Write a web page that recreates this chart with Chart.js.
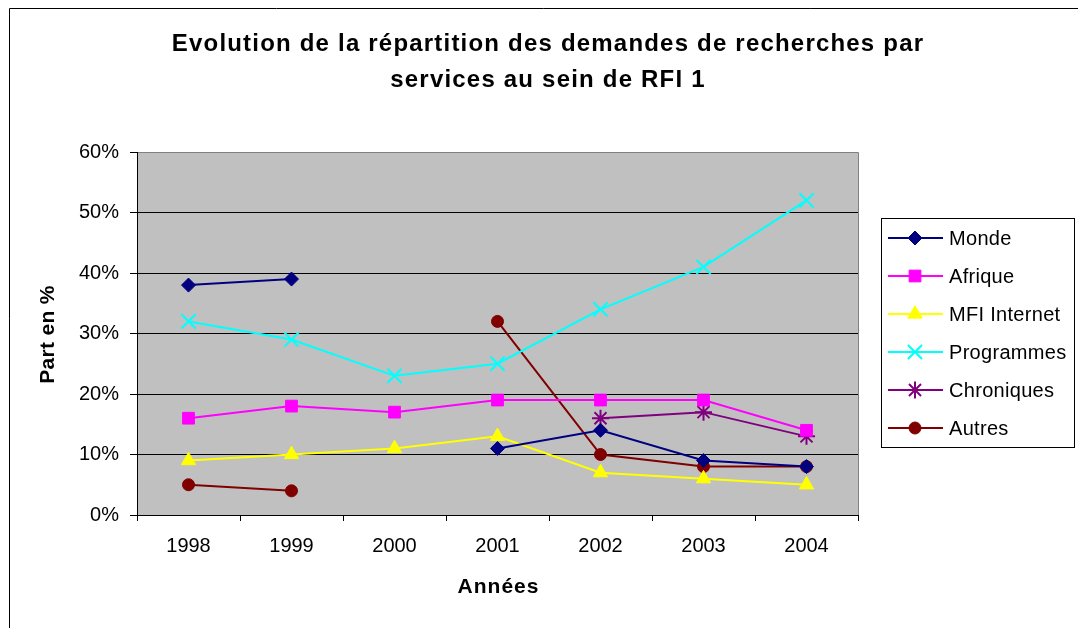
<!DOCTYPE html>
<html>
<head>
<meta charset="utf-8">
<script src="https://cdn.jsdelivr.net/npm/chart.js@4/dist/chart.umd.min.js"></script>
<style>
html,body{margin:0;padding:0;background:#fff;}
canvas{display:block;}
</style>
</head>
<body>
<canvas id="c" width="1078" height="628"></canvas>
<script>
const years = ['1998','1999','2000','2001','2002','2003','2004'];
const monde = [38, 39, null, 11, 14, 9, 8];
const afrique = [16, 18, 17, 19, 19, 19, 14];
const mfiInternet = [9, 10, 11, 13, 7, 6, 5];
const programmes = [32, 29, 23, 25, 34, 41, 52];
const chroniques = [null, null, null, null, 16, 17, 13];
const autres = [5, 4, null, 32, 10, 8, 8];
const seriesNames = ['Monde','Afrique','MFI Internet','Programmes','Chroniques','Autres'];
const yTicks = [0, 10, 20, 30, 40, 50, 60];
const titleLines = ['Evolution de la répartition des demandes de recherches par', 'services au sein de RFI 1'];
const xTitle = 'Années';
const yTitle = 'Part en %';

const FONT = '"Liberation Sans", Arial, sans-serif';

function ds(label, data, color, style, radius, bw) {
  return {
    label, data,
    borderColor: color, backgroundColor: color,
    pointBackgroundColor: color, pointBorderColor: color,
    pointStyle: style, pointRadius: radius, pointHoverRadius: radius,
    pointBorderWidth: bw, borderWidth: 2, tension: 0, spanGaps: false
  };
}

const datasets = [
  ds(seriesNames[0], monde, '#000080', 'rectRot', 7, 1),
  ds(seriesNames[1], afrique, '#FF00FF', 'rect', 8.3, 1),
  ds(seriesNames[2], mfiInternet, '#FFFF00', 'triangle', 8.3, 1),
  ds(seriesNames[3], programmes, '#00FFFF', 'crossRot', 10, 2),
  ds(seriesNames[4], chroniques, '#800080', 'star', 8.5, 2),
  ds(seriesNames[5], autres, '#800000', 'circle', 6, 1)
];

const deco = {
  id: 'deco',
  beforeDraw(chart) {
    const ctx = chart.ctx, a = chart.chartArea;
    ctx.save();
    ctx.fillStyle = '#fff';
    ctx.fillRect(0, 0, chart.width, chart.height);
    ctx.fillStyle = '#C0C0C0';
    ctx.fillRect(a.left, a.top, a.right - a.left, a.bottom - a.top);
    ctx.strokeStyle = '#000';
    ctx.lineWidth = 1;
    ctx.beginPath();
    ctx.moveTo(9.5, chart.height);
    ctx.lineTo(9.5, 8.5);
    ctx.lineTo(chart.width, 8.5);
    ctx.stroke();
    ctx.restore();
  },
  beforeDatasetsDraw(chart) {
    const ctx = chart.ctx, a = chart.chartArea;
    ctx.save();
    ctx.strokeStyle = '#808080';
    ctx.lineWidth = 1;
    ctx.beginPath();
    ctx.moveTo(a.left + 1, Math.round(a.top) + 0.5);
    ctx.lineTo(Math.round(a.right) + 0.5, Math.round(a.top) + 0.5);
    ctx.lineTo(Math.round(a.right) + 0.5, a.bottom);
    ctx.stroke();
    ctx.restore();
  },
  afterDraw(chart) {
    const ctx = chart.ctx, a = chart.chartArea;
    ctx.save();
    ctx.fillStyle = '#000';
    ctx.textAlign = 'center';
    ctx.textBaseline = 'middle';
    ctx.font = 'bold 24px ' + FONT;
    ctx.letterSpacing = '1.2px';
    ctx.fillText(titleLines[0], 548, 44);
    ctx.fillText(titleLines[1], 548, 80);
    ctx.font = 'bold 21px ' + FONT;
    ctx.letterSpacing = '1px';
    ctx.fillText(xTitle, (a.left + a.right) / 2 + 1, 587);
    ctx.save();
    ctx.translate(48, (a.top + a.bottom) / 2 + 1);
    ctx.rotate(-Math.PI / 2);
    ctx.letterSpacing = '0.3px';
    ctx.fillText(yTitle, 0, 0);
    ctx.restore();
    ctx.letterSpacing = '0.3px';
    ctx.strokeStyle = '#000';
    ctx.lineWidth = 1;
    ctx.strokeRect(881.5, 218.5, 193, 229);
    ctx.font = '20px ' + FONT;
    ctx.textAlign = 'left';
    chart.data.datasets.forEach((d, i) => {
      const y = 238 + i * 38;
      ctx.strokeStyle = d.borderColor;
      ctx.fillStyle = d.backgroundColor;
      ctx.lineWidth = 2;
      ctx.beginPath();
      ctx.moveTo(888, y);
      ctx.lineTo(943, y);
      ctx.stroke();
      ctx.lineWidth = d.pointBorderWidth;
      Chart.helpers.drawPoint(ctx, {pointStyle: d.pointStyle, radius: d.pointRadius, borderWidth: d.pointBorderWidth, rotation: 0}, 915, y);
      ctx.fillStyle = '#000';
      ctx.fillText(d.label, 949, y + 1);
    });
    ctx.restore();
  }
};

new Chart(document.getElementById('c'), {
  type: 'line',
  data: { labels: years, datasets },
  options: {
    responsive: false,
    animation: false,
    devicePixelRatio: 1,
    events: [],
    layout: { padding: { left: 0, top: 152, right: 220, bottom: 0 } },
    plugins: { legend: { display: false }, title: { display: false }, tooltip: { enabled: false } },
    scales: {
      x: {
        type: 'category',
        offset: true,
        afterFit(s) { s.height = 113; },
        grid: { offset: true, drawOnChartArea: false, drawTicks: true, tickLength: 6, color: '#000', tickColor: '#000', lineWidth: 1 },
        border: { color: '#000', width: 1 },
        ticks: { color: '#000', font: { family: FONT, size: 20 }, padding: 13, maxRotation: 0, autoSkip: false }
      },
      y: {
        min: 0, max: 60,
        afterFit(s) { s.width = 137; },
        afterBuildTicks(s) { s.ticks = yTicks.map(v => ({ value: v })); },
        grid: {
          drawTicks: true, tickLength: 7, lineWidth: 1,
          color: c => (c.tick && c.tick.value === 60) ? '#808080' : '#000',
          tickColor: '#000'
        },
        border: { color: '#000', width: 1 },
        ticks: { color: '#000', font: { family: FONT, size: 20 }, padding: 11, callback: v => v + '%' }
      }
    }
  },
  plugins: [deco]
});
</script>
</body>
</html>
